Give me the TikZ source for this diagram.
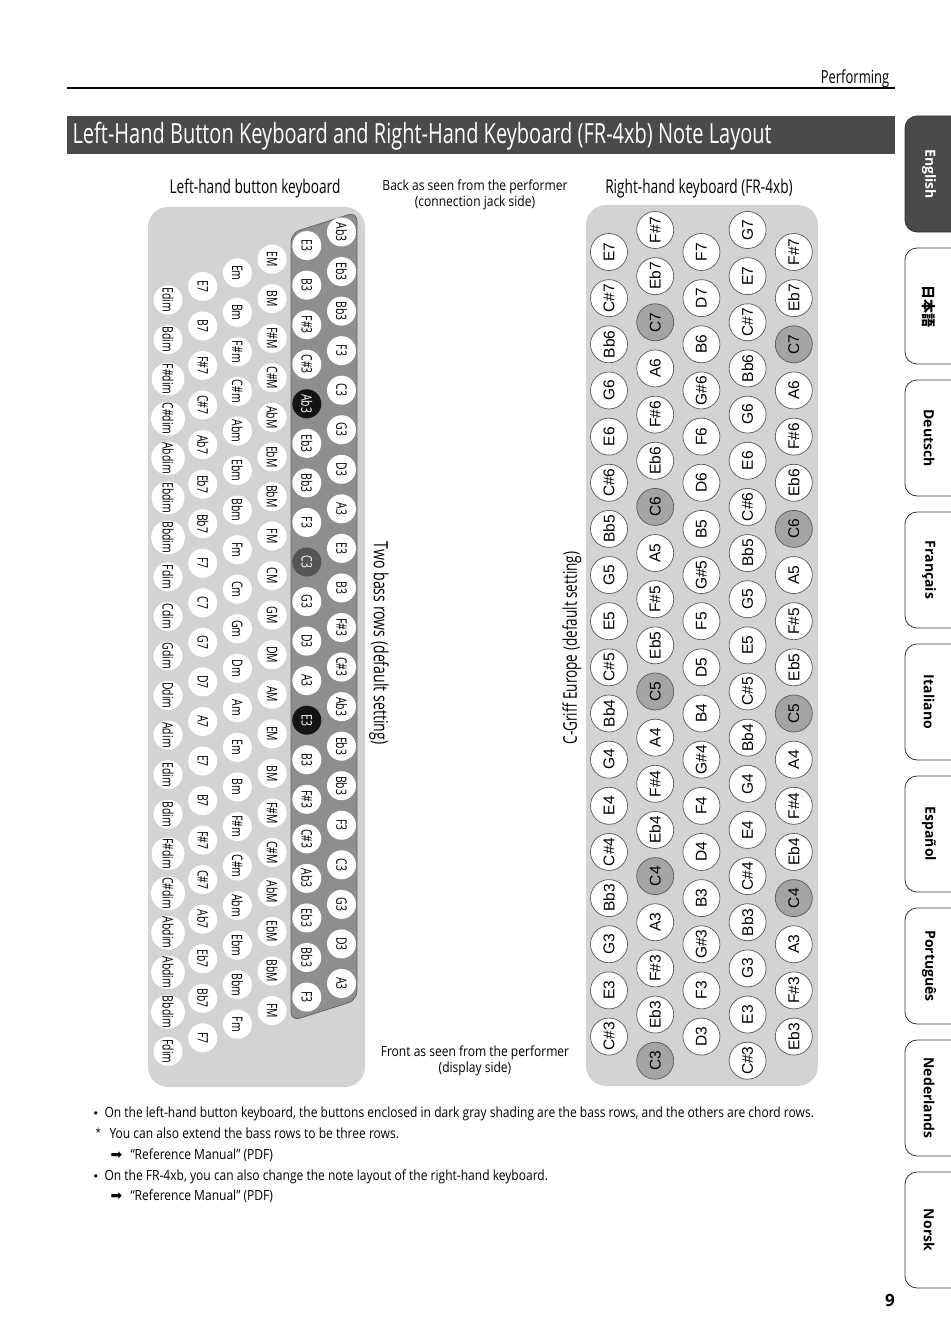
\documentclass[tikz,border=0pt]{standalone}
\usepackage{fontspec}
\setmainfont{Open Sans}
\newfontfamily\condf[FakeStretch=0.72]{Open Sans}
\newfontfamily\bodyf[FakeStretch=0.86]{Open Sans}
\newfontfamily\arialf{Liberation Sans}
\newfontfamily\jpf{Noto Sans CJK JP}
\newfontfamily\symf{DejaVu Sans}
\definecolor{panel}{HTML}{D3D3D3}
\definecolor{bassc}{HTML}{8E8E8E}
\definecolor{titlebg}{HTML}{4A4A4A}
\definecolor{rgrayc}{HTML}{A4A4A4}
\definecolor{cdark}{HTML}{555555}
\begin{document}
\begin{tikzpicture}[x=1pt,y=-1pt,
  lkey/.style={circle,fill=white,minimum size=29,inner sep=0pt,rotate=-90,font=\condf\fontsize{14.5}{15}\selectfont},
  lw/.style={},
  lk/.style={fill=black!92,text=white},
  lg/.style={fill=cdark,text=white},
  rkey/.style={circle,draw=black!65,line width=0.7,fill=white,minimum size=37,inner sep=0pt,rotate=90,font=\arialf\fontsize{15.5}{16}\selectfont},
  rw/.style={},
  rg/.style={fill=rgrayc},
  tabbox/.style={draw=black!80,line width=0.8,rounded corners=12},
  tabtext/.style={rotate=-90,font=\bfseries\fontsize{14}{15}\selectfont},
  note/.style={font=\bodyf\fontsize{14}{16}\selectfont},
  bul/.style={font=\symf\fontsize{11}{13}\selectfont,anchor=base west},
  head/.style={font=\condf\fontsize{19}{21}\selectfont}]
\useasboundingbox[fill=white] (0,0) rectangle (950,1343);

% header
\node[font=\condf\fontsize{18}{20}\selectfont,anchor=base] (perf) at (855,84) {Performing};
\coordinate (hl) at (67,88);
\coordinate (hr) at (895,88);
\draw[line width=2.5] (hl) -- (hr);
\fill[titlebg] (67,116) rectangle (895,154);
\node[font=\condf\fontsize{27.8}{29}\selectfont,text=white,anchor=west] (title) at (69,136) {Left-Hand Button Keyboard and Right-Hand Keyboard (FR-4xb) Note Layout};

% headings
\node[head] (lhead) at (255,189) {Left-hand button keyboard};
\node[head] (rhead) at (699,189) {Right-hand keyboard (FR-4xb)};
\node[note,align=center] (back) at (475,195) {Back as seen from the performer\\(connection jack side)};
\node[note,align=center] (front) at (475,1061) {Front as seen from the performer\\(display side)};

% left panel
\fill[panel,rounded corners=20] (148,207) rectangle (365,1087);
\draw[fill=bassc,draw=black!60,line width=0.8,rounded corners=9] (291,233) -- (357,212) -- (357,1000) -- (291,1021) -- cycle;

\foreach \t [count=\i from 0] in {Edim,Bdim,F\#dim,C\#dim,Abdim,Ebdim,Bbdim,Fdim,Cdim,Gdim,Ddim,Adim,Edim,Bdim,F\#dim,C\#dim,Abdim,Abdim,Bbdim,Fdim}
  \node[lkey] (LA\i) at (168,{300+39.55*\i}) {\t};
\foreach \t [count=\i from 0] in {E7,B7,F\#7,C\#7,Ab7,Eb7,Bb7,F7,C7,G7,D7,A7,E7,B7,F\#7,C\#7,Ab7,Eb7,Bb7,F7}
  \node[lkey] (LB\i) at (202.7,{286.4+39.55*\i}) {\t};
\foreach \t [count=\i from 0] in {Em,Bm,F\#m,C\#m,Abm,Ebm,Bbm,Fm,Cm,Gm,Dm,Am,Em,Bm,F\#m,C\#m,Abm,Ebm,Bbm,Fm}
  \node[lkey] (LC\i) at (237.4,{272.8+39.55*\i}) {\t};
\foreach \t [count=\i from 0] in {EM,BM,F\#M,C\#M,AbM,EbM,BbM,FM,CM,GM,DM,AM,EM,BM,F\#M,C\#M,AbM,EbM,BbM,FM}
  \node[lkey] (LD\i) at (272.1,{259.2+39.55*\i}) {\t};
\foreach \t/\s [count=\i from 0] in {E3/w,B3/w,F\#3/w,C\#3/w,Ab3/k,Eb3/w,Bb3/w,F3/w,C3/g,G3/w,D3/w,A3/w,E3/k,B3/w,F\#3/w,C\#3/w,Ab3/w,Eb3/w,Bb3/w,F3/w}
  \node[lkey,l\s] (LE\i) at (306.8,{245.6+39.55*\i}) {\t};
\foreach \t [count=\i from 0] in {Ab3,Eb3,Bb3,F3,C3,G3,D3,A3,E3,B3,F\#3,C\#3,Ab3,Eb3,Bb3,F3,C3,G3,D3,A3}
  \node[lkey] (LF\i) at (341.5,{232+39.55*\i}) {\t};

\node[rotate=-90,font=\condf\fontsize{19.6}{21}\selectfont] (twobass) at (379,643) {Two bass rows (default setting)};
\node[rotate=90,font=\condf\fontsize{18.9}{20}\selectfont] (cgriff) at (572,648) {C-Griff Europe (default setting)};

% right panel
\fill[panel,rounded corners=20] (586,205) rectangle (818,1086);
\foreach \t [count=\i from 0] in {E7,C\#7,Bb6,G6,E6,C\#6,Bb5,G5,E5,C\#5,Bb4,G4,E4,C\#4,Bb3,G3,E3,C\#3}
  \node[rkey] (RA\i) at (609,{252+46.15*\i}) {\t};
\foreach \t/\s [count=\i from 0] in {F\#7/w,Eb7/w,C7/g,A6/w,F\#6/w,Eb6/w,C6/g,A5/w,F\#5/w,Eb5/w,C5/g,A4/w,F\#4/w,Eb4/w,C4/g,A3/w,F\#3/w,Eb3/w,C3/g}
  \node[rkey,r\s] (RB\i) at (655.2,{230+46.15*\i}) {\t};
\foreach \t [count=\i from 0] in {F7,D7,B6,G\#6,F6,D6,B5,G\#5,F5,D5,B4,G\#4,F4,D4,B3,G\#3,F3,D3}
  \node[rkey] (RC\i) at (701.4,{252+46.15*\i}) {\t};
\foreach \t [count=\i from 0] in {G7,E7,C\#7,Bb6,G6,E6,C\#6,Bb5,G5,E5,C\#5,Bb4,G4,E4,C\#4,Bb3,G3,E3,C\#3}
  \node[rkey] (RD\i) at (747.6,{230+46.15*\i}) {\t};
\foreach \t/\s [count=\i from 0] in {F\#7/w,Eb7/w,C7/g,A6/w,F\#6/w,Eb6/w,C6/g,A5/w,F\#5/w,Eb5/w,C5/g,A4/w,F\#4/w,Eb4/w,C4/g,A3/w,F\#3/w,Eb3/w}
  \node[rkey,r\s] (RE\i) at (793.8,{252+46.15*\i}) {\t};

% notes
\node[bul] (b1) at (89,1117) {•};
\node[note,anchor=base west] (t1) at (101,1117) {On the left-hand button keyboard, the buttons enclosed in dark gray shading are the bass rows, and the others are chord rows.};
\node[font=\bodyf\fontsize{11}{13}\selectfont,anchor=base west] (s1) at (92,1136) {*};
\node[note,anchor=base west] (t2) at (106,1138) {You can also extend the bass rows to be three rows.};
\node[font=\symf\fontsize{14}{15}\selectfont,anchor=base west] (a1) at (107,1159) {➡};
\node[note,anchor=base west] (t3) at (127,1159) {“Reference Manual” (PDF)};
\node[bul] (b2) at (89,1180) {•};
\node[note,anchor=base west] (t4) at (101,1180) {On the FR-4xb, you can also change the note layout of the right-hand keyboard.};
\node[font=\symf\fontsize{14}{15}\selectfont,anchor=base west] (a2) at (107,1200) {➡};
\node[note,anchor=base west] (t5) at (127,1200) {“Reference Manual” (PDF)};

\node[font=\bfseries\fontsize{17}{19}\selectfont,anchor=base] (pnum) at (890,1306) {9};

% tabs
\draw[tabbox,fill=titlebg] (953,116) -- (905,116) -- (905,232) -- (953,232);
\node[tabtext,text=white] (tab1) at (929,174) {English};
\foreach \t/\y [count=\i from 2] in {{\jpf 日本語}/248,Deutsch/380,Français/512,Italiano/644,Español/776,Português/908,Nederlands/1040,Norsk/1172}{
  \draw[tabbox,fill=white] (953,\y) -- (905,\y) -- (905,\y+116) -- (953,\y+116);
  \node[tabtext] (tab\i) at (929,\y+58) {\t};
}
\end{tikzpicture}
\end{document}
